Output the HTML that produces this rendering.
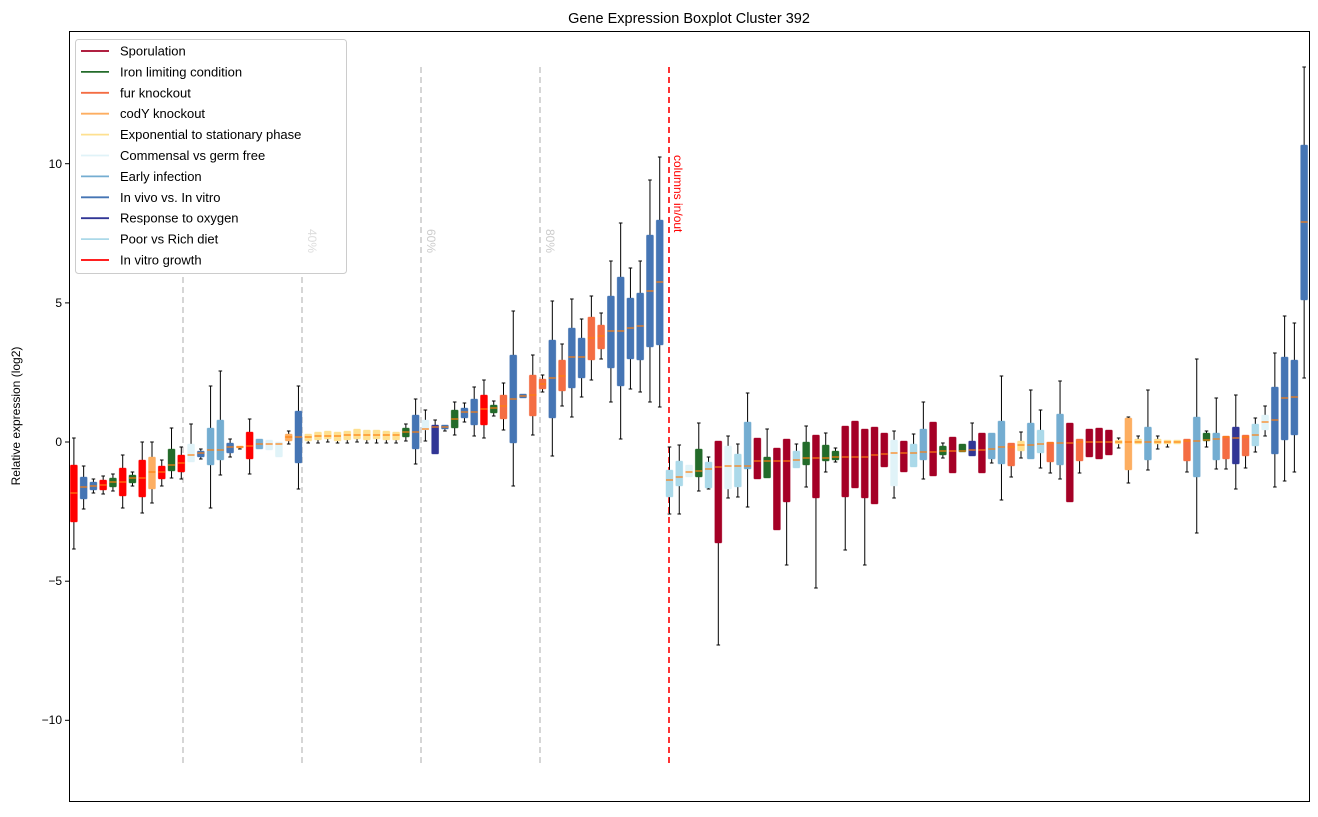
<!DOCTYPE html>
<html><head><meta charset="utf-8"><style>
body{margin:0;background:#fff;}
svg text{font-family:"Liberation Sans","DejaVu Sans",sans-serif;}
</style></head><body>
<svg id="s" width="1318" height="812" xmlns="http://www.w3.org/2000/svg">
<rect width="1318" height="812" fill="#fff"/>
<text x="689" y="23" font-size="14.5" text-anchor="middle">Gene Expression Boxplot Cluster 392</text>
<text transform="translate(20,416) rotate(-90)" font-size="12" text-anchor="middle">Relative expression (log2)</text>
<g stroke="#000" stroke-width="1">
<line x1="65" y1="163.7" x2="69" y2="163.7"/><line x1="65" y1="302.9" x2="69" y2="302.9"/><line x1="65" y1="442" x2="69" y2="442"/><line x1="65" y1="581.2" x2="69" y2="581.2"/><line x1="65" y1="720.3" x2="69" y2="720.3"/>
</g>
<g font-size="12" text-anchor="end">
<text x="62" y="168">10</text><text x="62" y="307">5</text><text x="62" y="446">0</text><text x="62" y="585">−5</text><text x="62" y="724">−10</text>
</g>
<g stroke="#cccccc" stroke-width="1.6" stroke-dasharray="6,4">
<line x1="183" y1="67" x2="183" y2="767"/><line x1="302" y1="67" x2="302" y2="767"/><line x1="421" y1="67" x2="421" y2="767"/><line x1="540" y1="67" x2="540" y2="767"/>
</g>
<g fill="#cccccc" font-size="12">
<text transform="translate(427,229) rotate(90)">60%</text>
<text transform="translate(546,229) rotate(90)">80%</text>
</g>
<line x1="669" y1="67" x2="669" y2="767" stroke="#ff0000" stroke-width="1.6" stroke-dasharray="6,4"/>
<text transform="translate(674,155) rotate(90)" fill="#ff0000" font-size="12">columns in/out</text>
<g id="boxes"></g>
<rect x="69.5" y="31.5" width="1240" height="770" fill="none" stroke="#000" stroke-width="1"/>
<g id="leg"></g>
<text transform="translate(308,229) rotate(90)" fill="#dddddd" font-size="12">40%</text>
</svg>
<script>
var C={S:"#a50026",I:"#236b2a",F:"#f46d43",C:"#fdae61",E:"#fee090",M:"#e0f3f8",A:"#74add1",V:"#4575b4",O:"#313695",P:"#abd9e9",R:"#ff0000"};
var D=[
["R",438,465,493,522,549],["V",466,477,487,499,509],["V",479,482,486,490,493],["R",476,480,485,490,494],
["I",474,478,482,487,491],["R",455,468,482,496,508],["I",472,475,478,483,486],["R",442,460,478,497,513],
["C",442,457,472,489,503],["R",460,466,472,479,486],["I",428,449,465,471,478],["R",447,455,463,472,479],
["M",424,444,455,462,462],["V",449,451,453,457,459],["A",386,428,450,465,508],["A",371,420,450,460,475],
["V",439,443,447,453,457],["C",446,446,447,448,449],["R",419,432,446,459,474],["A",439,439,444,449,449],
["M",440,440,444,450,450],["M",442,442,444,457,457],["C",431,434,437,441,444],["V",386,411,437,463,489],
["E",434,434,437,441,443],["E",432,432,436,440,443],["E",431,431,436,439,442],["E",432,432,436,441,443],
["E",431,431,435,440,443],["E",429,429,435,439,442],["E",430,430,435,440,443],["E",430,430,435,439,443],
["E",431,431,435,440,443],["E",432,432,435,440,443],
["I",424,428,432,437,441],["V",399,415,432,449,464],["M",410,420,429,430,441],["O",420,425,427,454,454],
["V",425,425,427,429,431],["I",402,410,419,428,435],["V",403,408,412,418,422],["V",387,399,412,425,436],
["R",380,395,409,425,438],["I",401,405,408,413,416],["F",383,395,406,419,430],["V",311,355,399,443,486],
["V",394,394,396,398,398],["F",355,375,395,416,435],["F",375,379,384,389,392],["V",301,340,378,418,456],
["F",344,360,376,391,406],["V",299,328,357,388,417],["V",319,338,357,378,397],["F",296,317,338,360,380],
["F",313,325,336,349,359],["V",261,296,331,368,402],["V",223,277,331,386,439],["V",268,298,328,359,389],
["V",261,293,326,360,392],["V",180,235,291,347,402],["V",157,220,282,345,407],
["P",447,470,480,497,514],["P",445,461,477,486,514],["M",465,465,472,477,477],["I",423,449,471,477,491],
["P",457,462,469,488,489],["S",441,441,467,543,645],["M",436,446,466,489,498],["P",444,454,466,487,497],
["A",393,422,466,469,507],["S",438,438,461,479,479],["I",429,457,461,478,478],["S",448,448,461,530,530],
["S",439,439,461,502,565],["P",444,451,460,468,468],["I",426,442,458,465,487],["S",435,435,458,498,588],
["I",433,445,458,461,472],["I",448,451,457,460,462],["S",426,426,457,497,550],["S",421,421,457,488,488],
["S",429,429,457,498,565],["S",427,427,455,504,504],["S",433,433,454,467,467],["M",431,440,453,486,498],
["S",441,441,453,472,472],["P",434,444,453,467,467],["A",402,429,452,460,479],["S",422,422,452,476,476],
["I",443,446,451,455,458],["S",437,437,451,473,473],["I",444,444,451,452,452],["O",423,441,450,456,456],
["S",433,433,450,473,473],["A",433,433,449,459,463],["A",376,421,447,464,500],["F",443,443,447,466,477],
["E",432,441,445,451,458],["A",390,423,445,459,459],["P",410,430,444,453,468],["F",442,442,443,462,473],
["A",381,414,443,465,479],["S",423,423,443,502,502],["F",439,439,442,461,473],["S",429,429,442,457,457],
["S",428,428,442,459,459],["S",430,430,442,455,455],["E",438,440,442,444,448],["C",417,418,442,470,483],
["E",436,439,442,444,444],["A",390,427,442,460,470],["E",436,439,442,444,449],["E",440,440,442,444,447],
["E",440,440,442,444,444],["F",439,439,441,461,472],["A",359,417,441,477,533],["I",431,433,440,441,447],
["A",398,433,439,460,469],["F",436,436,437,459,469],["O",395,427,438,464,489],["F",435,435,437,456,468],
["P",418,424,435,446,452],["M",406,415,422,430,436],["V",353,387,420,454,487],["V",316,357,398,440,481],
["V",323,360,397,435,472],["V",67,145,222,300,378]];
var g=document.getElementById("boxes"),h="";
D.forEach(function(d,i){
 var x=69+9.764*(i+0.5),c=C[d[0]],w=7,hw=3.5,cw=1.8;
 h+='<line x1="'+x+'" y1="'+d[1]+'" x2="'+x+'" y2="'+d[2]+'" stroke="#000"/>';
 h+='<line x1="'+x+'" y1="'+d[4]+'" x2="'+x+'" y2="'+d[5]+'" stroke="#000"/>';
 if(d[1]<d[2])h+='<line x1="'+(x-cw)+'" y1="'+d[1]+'" x2="'+(x+cw)+'" y2="'+d[1]+'" stroke="#000"/>';
 if(d[5]>d[4])h+='<line x1="'+(x-cw)+'" y1="'+d[5]+'" x2="'+(x+cw)+'" y2="'+d[5]+'" stroke="#000"/>';
 var bh=Math.max(d[4]-d[2],2);
 h+='<rect x="'+(x-hw)+'" y="'+d[2]+'" width="'+w+'" height="'+bh+'" rx="1" fill="'+c+'" stroke="'+c+'" stroke-opacity="0.5" stroke-width="0.8"/>';
 h+='<line x1="'+(x-hw)+'" y1="'+d[3]+'" x2="'+(x+hw)+'" y2="'+d[3]+'" stroke="#ff7f0e" stroke-width="1.2"/>';
});
g.innerHTML=h;
var L=[["S","Sporulation"],["I","Iron limiting condition"],["F","fur knockout"],["C","codY knockout"],["E","Exponential to stationary phase"],["M","Commensal vs germ free"],["A","Early infection"],["V","In vivo vs. In vitro"],["O","Response to oxygen"],["P","Poor vs Rich diet"],["R","In vitro growth"]];
var lh='<rect x="75.5" y="39.5" width="271" height="234" rx="3" fill="#fff" stroke="#cccccc"/>';
L.forEach(function(l,i){var y=51+i*20.9;
 lh+='<line x1="81" y1="'+y+'" x2="109" y2="'+y+'" stroke="'+C[l[0]]+'" stroke-width="1.8"/>';
 lh+='<text x="120" y="'+(y+4.5)+'" font-size="13">'+l[1]+'</text>';});
document.getElementById("leg").innerHTML=lh;
</script>
</body></html>
